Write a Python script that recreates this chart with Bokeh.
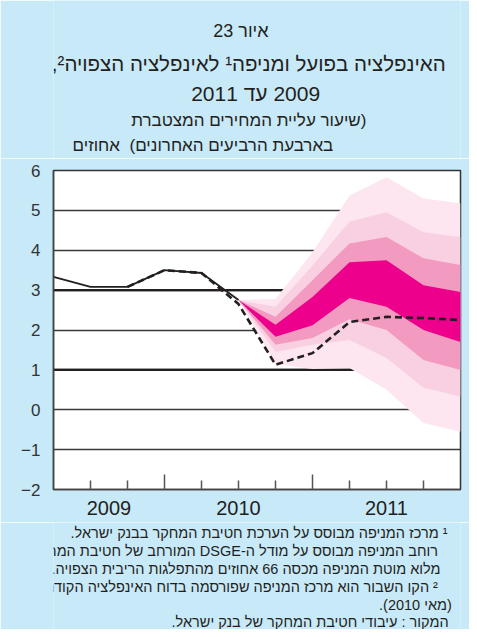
from bokeh.plotting import figure
from bokeh.layouts import column
from bokeh.models import FixedTicker, LinearAxis, Span, Range1d, Grid
from bokeh.core.properties import value
from bokeh.embed import file_html
from bokeh.resources import INLINE

# ---------------- data ----------------
# x = quarter index (0 = first quarter shown, 2009)
quarters_actual = [0, 1, 2, 3, 4, 5]
actual = [3.33, 3.08, 3.08, 3.50, 3.43, 2.75]

quarters_prev = [2, 3, 4, 5, 6, 7, 8, 9, 10, 11]
prev_center = [3.08, 3.50, 3.43, 2.65, 1.13, 1.42, 2.20, 2.33, 2.30, 2.25]

quarters_fan = [5, 6, 7, 8, 9, 10, 11]
outer_hi = [2.75, 2.78, 3.95, 5.37, 5.83, 5.30, 5.18]
band2_hi = [2.75, 2.58, 3.62, 4.72, 4.95, 4.45, 4.33]
band3_hi = [2.75, 2.33, 3.25, 4.17, 4.33, 3.80, 3.63]
core_hi = [2.75, 2.13, 2.83, 3.70, 3.75, 3.12, 2.95]
core_lo = [2.75, 1.83, 2.12, 2.80, 2.58, 2.00, 1.70]
band3_lo = [2.75, 1.63, 1.80, 2.27, 2.00, 1.25, 1.00]
band2_lo = [2.75, 1.45, 1.63, 1.75, 1.30, 0.55, 0.33]
outer_lo = [2.75, 1.15, 1.02, 1.05, 0.50, -0.33, -0.55]

year_labels = ["2009", "2010", "2011"]
year_label_pos = [1.5, 5, 9]
year_bounds = [3, 7]
quarter_ticks = [1, 2, 4, 5, 6, 8, 9, 10]
y_ticks = [-2, -1, 0, 1, 2, 3, 4, 5, 6]
emphasis_levels = [1, 3]

RLE, PDF = "\u202b", "\u202c"
def rtl(s):
    return RLE + s + PDF

title_lines = [
    "איור 23",
    "האינפלציה בפועל ומניפה¹ לאינפלציה הצפויה²,",
    "2009 עד 2011",
    "(שיעור עליית המחירים המצטברת",
    "בארבעת הרביעים האחרונים)",
]
unit_label = "אחוזים"
footnotes = [
    "¹ מרכז המניפה מבוסס על הערכת חטיבת המחקר בבנק ישראל.",
    "רוחב המניפה מבוסס על מודל ה-DSGE המורחב של חטיבת המחקר ;",
    "מלוא מוטת המניפה מכסה 66 אחוזים מהתפלגות הריבית הצפויה.",
    "² הקו השבור הוא מרכז המניפה שפורסמה בדוח האינפלציה הקודם",
    "(מאי 2010).",
    "המקור :  עיבודי חטיבת המחקר של בנק ישראל.",
]

# ---------------- style ----------------
BG = "#c8e9f8"
INK = "#231f20"
FONT = "Liberation Sans"
fan_colors = ["#fde6f0", "#f9d0e2", "#f39ac1", "#ec008c"]
W = 469
TOP_H = 158
BOT_H = 107


def text_panel(h):
    f = figure(width=W, height=h, x_range=Range1d(0, W), y_range=Range1d(h, 0),
               output_backend="svg", toolbar_location=None, title=None,
               x_axis_type=None, y_axis_type=None, min_border=0,
               background_fill_color=BG, border_fill_color=BG,
               outline_line_color=None)
    f.xgrid.visible = False
    f.ygrid.visible = False
    return f


def put(f, s, x, y, size, align):
    f.text(x=[x], y=[y], text=[rtl(s)], text_align=align, text_baseline="middle",
           text_font=value(FONT), text_font_size=size, text_color=INK)


# ---- title block (anchor x values include a nudge for RTL glyph placement) ----
top = text_panel(TOP_H)
title_specs = [(216, 30, "18px"), (225, 63, "20.5px"), (232, 93, "21px"),
               (225, 120, "17px"), (205, 145, "17px")]
for s, (xx, yy, size) in zip(title_lines, title_specs):
    put(top, s, xx, yy, size, "center")
put(top, unit_label, 22, 145, "17px", "left")

# ---- chart ----
p = figure(frame_width=407, frame_height=319,
           x_range=Range1d(0, 11), y_range=Range1d(-2, 6),
           output_backend="svg", toolbar_location=None, title=None,
           x_axis_type=None, y_axis_type=None,
           min_border_left=53, min_border_right=9,
           min_border_top=12, min_border_bottom=33,
           border_fill_color=BG, background_fill_color="white",
           outline_line_color="#333333", outline_line_width=1.5)

p.add_layout(Grid(dimension=1, ticker=FixedTicker(ticks=y_ticks),
                  grid_line_color="#3a3a3a", grid_line_width=1.4))
for lv in emphasis_levels:
    p.add_layout(Span(location=lv, dimension="width", line_color=INK,
                      line_width=2.4, level="underlay"))

bands = [(outer_lo, outer_hi), (band2_lo, band2_hi), (band3_lo, band3_hi), (core_lo, core_hi)]
for (lo, hi), c in zip(bands, fan_colors):
    p.varea(x=quarters_fan, y1=lo, y2=hi, fill_color=c)

p.line(quarters_prev, prev_center, line_color=INK, line_width=2.6, line_dash="7 4")
p.line(quarters_actual, actual, line_color=INK, line_width=1.8)

yaxis = LinearAxis(ticker=FixedTicker(ticks=y_ticks),
                   major_tick_in=0, major_tick_out=0, minor_tick_in=0, minor_tick_out=0,
                   major_label_standoff=13, major_label_text_font_size="17px",
                   major_label_text_font=FONT, major_label_text_color="#333333",
                   axis_line_color="#444444", axis_line_width=1.5)
p.add_layout(yaxis, "left")

xaxis = LinearAxis(ticker=FixedTicker(ticks=year_bounds, minor_ticks=quarter_ticks),
                   major_tick_in=15, major_tick_out=0, minor_tick_in=9, minor_tick_out=0,
                   major_tick_line_color="#555555", minor_tick_line_color="#555555",
                   major_tick_line_width=1.5, minor_tick_line_width=1.5,
                   major_label_text_font_size="0px", major_label_standoff=0,
                   axis_line_color="#444444", axis_line_width=1.5)
p.add_layout(xaxis, "below")

xaxis2 = LinearAxis(ticker=FixedTicker(ticks=year_label_pos, minor_ticks=[]),
                    major_label_overrides=dict(zip(year_label_pos, year_labels)),
                    major_tick_in=0, major_tick_out=0, minor_tick_in=0, minor_tick_out=0,
                    axis_line_color=None, major_label_standoff=11,
                    major_label_text_font_size="20px", major_label_text_font=FONT,
                    major_label_text_color=INK)
p.add_layout(xaxis2, "below")

# ---- footnotes (right-aligned) ----
bot = text_panel(BOT_H)
foot_specs = [(454, 10), (443, 28), (446, 46), (443, 64), (459, 82), (460, 99)]
for s, (xx, yy) in zip(footnotes, foot_specs):
    put(bot, s, xx, yy, "14.5px", "right")

layout = column(top, p, bot, spacing=0)
open("out.html", "w").write(file_html(layout, INLINE))
